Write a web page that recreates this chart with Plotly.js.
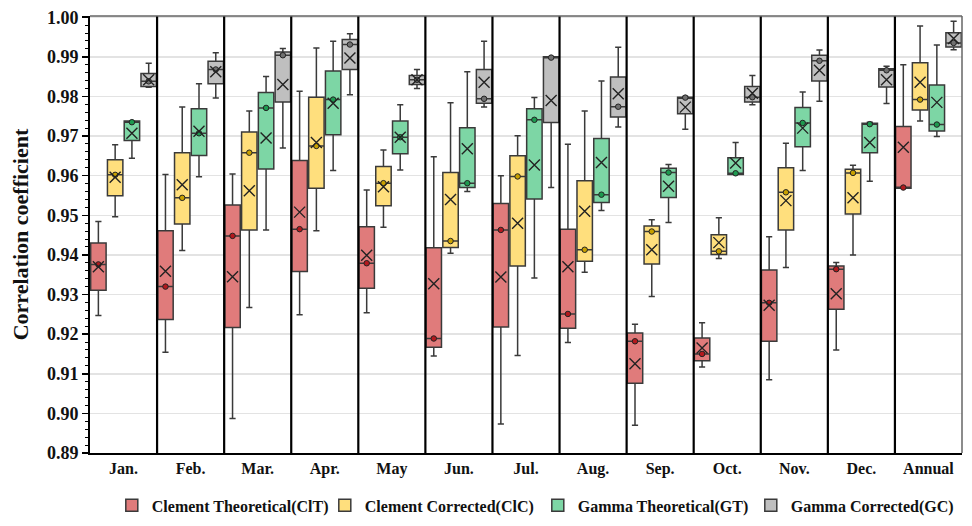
<!DOCTYPE html>
<html>
<head>
<meta charset="utf-8">
<script src="https://cdn.plot.ly/plotly-3.0.1.min.js"></script>
<style>html,body{margin:0;padding:0;background:#fff;}#chart{width:972px;height:526px;}</style>
</head>
<body>
<div id="chart"></div>
<script>
// ---- Data ----
const categories = ['Jan.','Feb.','Mar.','Apr.','May','Jun.','Jul.','Aug.','Sep.','Oct.','Nov.','Dec.','Annual'];
const seriesNames = ['Clement Theoretical(ClT)','Clement Corrected(ClC)','Gamma Theoretical(GT)','Gamma Corrected(GC)'];

const cltQ1     = [0.9311,0.9237,0.9217,0.9358,0.9316,0.9167,0.9218,0.9215,0.9076,0.9133,0.9182,0.9263,0.9568];
const cltMedian = [0.9376,0.9320,0.9448,0.9465,0.9379,0.9189,0.9463,0.9251,0.9182,0.9150,0.9279,0.9364,0.9570];
const cltQ3     = [0.9430,0.9461,0.9526,0.9638,0.9471,0.9418,0.9530,0.9465,0.9203,0.9190,0.9362,0.9372,0.9724];
const cltLower  = [0.9247,0.9154,0.8987,0.9249,0.9254,0.9145,0.8973,0.9179,0.8970,0.9117,0.9085,0.9160,0.9568];
const cltUpper  = [0.9484,0.9603,0.9604,0.9813,0.9564,0.9648,0.9600,0.9679,0.9225,0.9229,0.9446,0.9381,0.9880];
const cltMean   = [0.9370,0.9359,0.9345,0.9508,0.9399,0.9327,0.9344,0.9370,0.9125,0.9165,0.9273,0.9302,0.9672];

const clcQ1     = [0.9549,0.9478,0.9463,0.9568,0.9524,0.9419,0.9372,0.9384,0.9377,0.9401,0.9463,0.9503,0.9766];
const clcMedian = [0.9602,0.9544,0.9658,0.9675,0.9581,0.9435,0.9598,0.9413,0.9459,0.9409,0.9558,0.9607,0.9792];
const clcQ3     = [0.9640,0.9658,0.9710,0.9798,0.9623,0.9608,0.9650,0.9587,0.9473,0.9451,0.9620,0.9616,0.9885];
const clcLower  = [0.9496,0.9411,0.9267,0.9461,0.9470,0.9404,0.9146,0.9356,0.9295,0.9391,0.9368,0.9400,0.9738];
const clcUpper  = [0.9678,0.9773,0.9763,0.9922,0.9665,0.9784,0.9701,0.9763,0.9489,0.9494,0.9682,0.9626,0.9978];
const clcMean   = [0.9596,0.9577,0.9562,0.9684,0.9572,0.9540,0.9480,0.9510,0.9413,0.9431,0.9537,0.9544,0.9836];

const gtQ1      = [0.9689,0.9651,0.9617,0.9703,0.9655,0.9570,0.9541,0.9532,0.9545,0.9603,0.9673,0.9658,0.9713];
const gtMedian  = [0.9735,0.9707,0.9771,0.9792,0.9697,0.9581,0.9741,0.9552,0.9608,0.9606,0.9733,0.9730,0.9729];
const gtQ3      = [0.9738,0.9769,0.9810,0.9864,0.9738,0.9721,0.9769,0.9694,0.9619,0.9645,0.9772,0.9732,0.9829];
const gtLower   = [0.9644,0.9597,0.9463,0.9613,0.9614,0.9560,0.9342,0.9512,0.9482,0.9603,0.9613,0.9586,0.9699];
const gtUpper   = [0.9738,0.9832,0.9850,0.9939,0.9779,0.9862,0.9797,0.9839,0.9628,0.9684,0.9811,0.9735,0.9930];
const gtMean    = [0.9707,0.9712,0.9695,0.9783,0.9697,0.9668,0.9627,0.9633,0.9573,0.9632,0.9720,0.9684,0.9785];

const gcQ1      = [0.9825,0.9832,0.9786,0.9868,0.9830,0.9783,0.9734,0.9748,0.9756,0.9786,0.9839,0.9824,0.9925];
const gcMedian  = [0.9838,0.9868,0.9904,0.9931,0.9842,0.9794,0.9898,0.9774,0.9797,0.9798,0.9890,0.9866,0.9935];
const gcQ3      = [0.9858,0.9889,0.9912,0.9944,0.9853,0.9868,0.9900,0.9849,0.9798,0.9825,0.9904,0.9870,0.9961];
const gcLower   = [0.9823,0.9796,0.9670,0.9804,0.9820,0.9773,0.9570,0.9723,0.9717,0.9779,0.9788,0.9782,0.9918];
const gcUpper   = [0.9884,0.9910,0.9921,0.9958,0.9868,0.9939,0.9900,0.9924,0.9800,0.9853,0.9917,0.9876,0.9990];
const gcMean    = [0.9842,0.9862,0.9830,0.9897,0.9842,0.9836,0.9790,0.9807,0.9773,0.9808,0.9866,0.9842,0.9946];

const yTicks = [0.89,0.90,0.91,0.92,0.93,0.94,0.95,0.96,0.97,0.98,0.99,1.00];

// ---- Styling ----
const fills   = ['#e07b7b','#ffdf7d','#7dd6a5','#bfbfbf'];
const medCols = ['#b3191e','#c9a100','#1d9a4f','#707070'];
const series = [
  {q1:cltQ1,med:cltMedian,q3:cltQ3,lo:cltLower,hi:cltUpper,mean:cltMean},
  {q1:clcQ1,med:clcMedian,q3:clcQ3,lo:clcLower,hi:clcUpper,mean:clcMean},
  {q1:gtQ1,med:gtMedian,q3:gtQ3,lo:gtLower,hi:gtUpper,mean:gtMean},
  {q1:gcQ1,med:gcMedian,q3:gcQ3,lo:gcLower,hi:gcUpper,mean:gcMean}
];
const offsets = [-0.375,-0.125,0.125,0.375];
const FONT = '"Liberation Serif", "DejaVu Serif", serif';

const traces = [];
series.forEach((s,k)=>{
  const xs = categories.map((c,i)=> i + offsets[k]);
  traces.push({
    type:'box', name:seriesNames[k], x:xs,
    q1:s.q1, median:s.med, q3:s.q3, lowerfence:s.lo, upperfence:s.hi,
    width:0.23, whiskerwidth:0.4,
    fillcolor:fills[k], line:{color:'#3a3a3a', width:1.5},
    hoverinfo:'y', boxpoints:false
  });
});
series.forEach((s,k)=>{
  const xs = categories.map((c,i)=> i + offsets[k]);
  traces.push({
    type:'scatter', mode:'markers', x:xs, y:s.med, showlegend:false, hoverinfo:'skip',
    marker:{symbol:'circle', size:5.5, color:medCols[k], line:{color:'#222', width:1}}
  });
  traces.push({
    type:'scatter', mode:'markers', x:xs, y:s.mean, showlegend:false, hoverinfo:'skip',
    marker:{symbol:'x-thin-open', size:11, color:'#222', line:{color:'#222', width:1.4}}
  });
});

const shapes = [];
for (let i=0;i<categories.length-1;i++){
  shapes.push({type:'line', xref:'x', yref:'paper', x0:i+0.5, x1:i+0.5, y0:0, y1:1,
    line:{color:'#000', width:2.2}, layer:'above'});
}
shapes.push({type:'line', xref:'paper', yref:'paper', x0:0, x1:1, y0:1, y1:1, line:{color:'#666', width:1.5}});
shapes.push({type:'line', xref:'paper', yref:'paper', x0:1, x1:1, y0:0, y1:1, line:{color:'#666', width:1.5}});

const layout = {
  width:972, height:526,
  margin:{l:90, r:10, t:16, b:73, autoexpand:false},
  paper_bgcolor:'#fff', plot_bgcolor:'#fff',
  showlegend:true,
  legend:{orientation:'h', x:0.025, xanchor:'left', y:-0.12, yanchor:'middle',
    entrywidth:168, entrywidthmode:'pixels',
    font:{family:FONT, size:16, color:'#111', weight:'bold'}, itemwidth:20, tracegroupgap:0},
  xaxis:{
    range:[-0.5, categories.length-0.5], tickmode:'array',
    tickvals:categories.map((c,i)=>i), ticktext:categories,
    showgrid:false, zeroline:false, ticks:'',
    showline:true, linecolor:'#000', linewidth:2,
    tickfont:{family:FONT, size:16, color:'#111', weight:'bold'}
  },
  yaxis:{
    range:[0.89, 1.0003], tickmode:'array', tickvals:yTicks, tickformat:'.2f',
    showgrid:true, gridcolor:'#e3e3e3', gridwidth:1.5, zeroline:false,
    showline:true, linecolor:'#000', linewidth:2,
    ticks:'outside', ticklen:6, tickwidth:1.5, tickcolor:'#000',
    minor:{dtick:0.002, ticks:'outside', ticklen:3, tickcolor:'#000', tickwidth:1, showgrid:false},
    tickfont:{family:FONT, size:18, color:'#111', weight:'bold'},
    title:{text:'Correlation coefficient', font:{family:FONT, size:22, color:'#111', weight:'bold'}, standoff:12}
  },
  shapes:shapes
};

Plotly.newPlot('chart', traces, layout, {displayModeBar:false, staticPlot:true});
</script>
</body>
</html>
